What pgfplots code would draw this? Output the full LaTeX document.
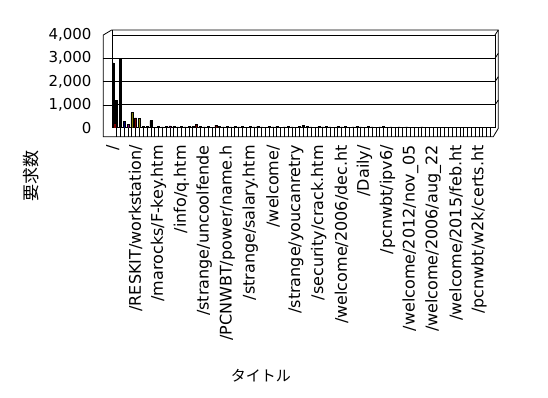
\documentclass[border=0pt]{standalone}
\usepackage{fontspec}
\setmainfont{DejaVu Sans}
\newfontfamily\cjk{Noto Sans CJK JP}
\usepackage{pgfplots}
\pgfplotsset{compat=1.18}
\definecolor{xlnavy}{HTML}{000080}
\definecolor{xlpurple}{HTML}{800080}
\definecolor{xlolive}{HTML}{808000}
\definecolor{xlmaroon}{HTML}{800000}
\begin{document}
\begin{tikzpicture}
\useasboundingbox (0,0) rectangle (548bp,-398bp);
\fill[white] (0,0) rectangle (548bp,-398bp);
\begin{axis}[
  at={(112bp,-127.7bp)}, anchor=south west,
  width=383bp, height=92.7bp, scale only axis,
  xmin=-0.2, xmax=100.2, ymin=0, ymax=4000,
  ytick={0,1000,...,4000},
  ymajorgrids, grid style={black, line width=0.8bp},
  axis line style={black, line width=0.8bp},
  ytick style={draw=none},
  xtick style={black, line width=0.8bp},
  xtick pos=lower, ytick pos=left,
  tick align=outside, major tick length=9bp,
  yticklabel style={font=\fontsize{15bp}{18bp}\selectfont, xshift=-8bp},
  /pgf/number format/.cd, 1000 sep={,}, assume math mode=true, /pgfplots/.cd,
  xtick={1,...,99}, xticklabels={},
  extra x ticks={0,6,...,96},
  extra x tick labels={/,/RESKIT/workstation/,/marocks/F-key.htm,/info/q.htm,/strange/uncoolfende,/PCNWBT/power/name.h,/strange/salary.htm,/welcome/,/strange/youcanretry,/security/crack.htm,/welcome/2006/dec.ht,/Daily/,/pcnwbt/ipv6/,/welcome/2012/nov\_05,/welcome/2006/aug\_22,/welcome/2015/feb.ht,/pcnwbt/w2k/certs.ht},
  extra x tick style={major tick length=0pt, xticklabel style={yshift=-14bp, rotate=90, anchor=east, font=\fontsize{16bp}{19bp}\selectfont}},
  xlabel={\cjk タイトル},
  xlabel style={at={(axis description cs:0.389,-2.679)}, anchor=center, font=\fontsize{15bp}{18bp}\selectfont},
  ylabel={\cjk 要求数},
  ylabel style={at={(axis description cs:-0.2115,-0.521)}, anchor=center, font=\fontsize{17bp}{20bp}\selectfont},
]
% black bars
\addplot[ybar, bar width=2bp, bar shift=0pt, fill=black, draw=black] coordinates {
(0,2800) (1,1170) (2,3000) (8,50) (9,60) (10,310) (11,30) (12,60) (13,40) (14,60)
(16,60) (17,40) (18,50) (19,40) (20,50) (21,60) (23,60) (24,40) (25,50) (26,30)
(28,50) (29,40) (30,60) (31,40) (32,50) (33,40) (34,60) (35,30) (36,50) (37,40) (38,60) (39,40)
(40,30) (41,50) (42,40) (43,60) (44,30) (45,40) (46,50) (47,40) (48,30) (49,60)
(50,100) (51,50) (52,40) (53,30) (54,50) (55,40) (56,60) (57,40) (58,30) (59,50)
(60,40) (61,50) (62,30) (63,40) (64,50) (65,40) (66,30) (67,50) (68,40) (69,30)
(70,40) (71,50) (72,30) (73,40) (74,30) (75,40) (76,30) (77,40) (78,30) (79,20)
(80,30) (81,40) (82,30) (83,20) (84,30) (85,20) (86,30) (87,20) (88,30) (89,20)
(90,30) (91,20) (92,30) (93,20) (94,20) (95,30) (96,20) (97,20) (98,20) (99,20)
};
\addplot[ybar, bar width=2bp, bar shift=0pt, fill=xlnavy, draw=black] coordinates {(3,270)};
\addplot[ybar, bar width=2bp, bar shift=0pt, fill=xlpurple, draw=black] coordinates {(4,140) (15,80)};
\addplot[ybar, bar width=2bp, bar shift=0pt, fill=xlolive, draw=black] coordinates {(5,650) (7,390)};
\addplot[ybar, bar width=2bp, bar shift=0pt, fill=xlmaroon, draw=black] coordinates {(6,420) (22,140) (27,110)};
\addplot[ybar, bar width=1.2bp, bar shift=1.6bp, fill=xlmaroon, draw=xlmaroon] coordinates {(0,130)};
\end{axis}
\draw[line width=0.8bp] (103.3bp,-35bp) -- (111.7bp,-30bp) -- (498.3bp,-30bp) -- (498.3bp,-128.3bp) -- (493.3bp,-136.7bp) -- (103.3bp,-136.7bp) -- cycle;
\draw[line width=0.8bp] (112bp,-30bp) -- (112bp,-35bp);
\foreach \y in {35,58.3,81.7,105} {\draw[line width=0.8bp] (495bp,{-\y*1bp}) -- ++(3.3bp,5bp);}
\foreach \y in {58.3,81.7,105} {\draw[line width=0.8bp] (103.3bp,{-\y*1bp}) -- (112bp,{-\y*1bp});}
\end{tikzpicture}
\end{document}
